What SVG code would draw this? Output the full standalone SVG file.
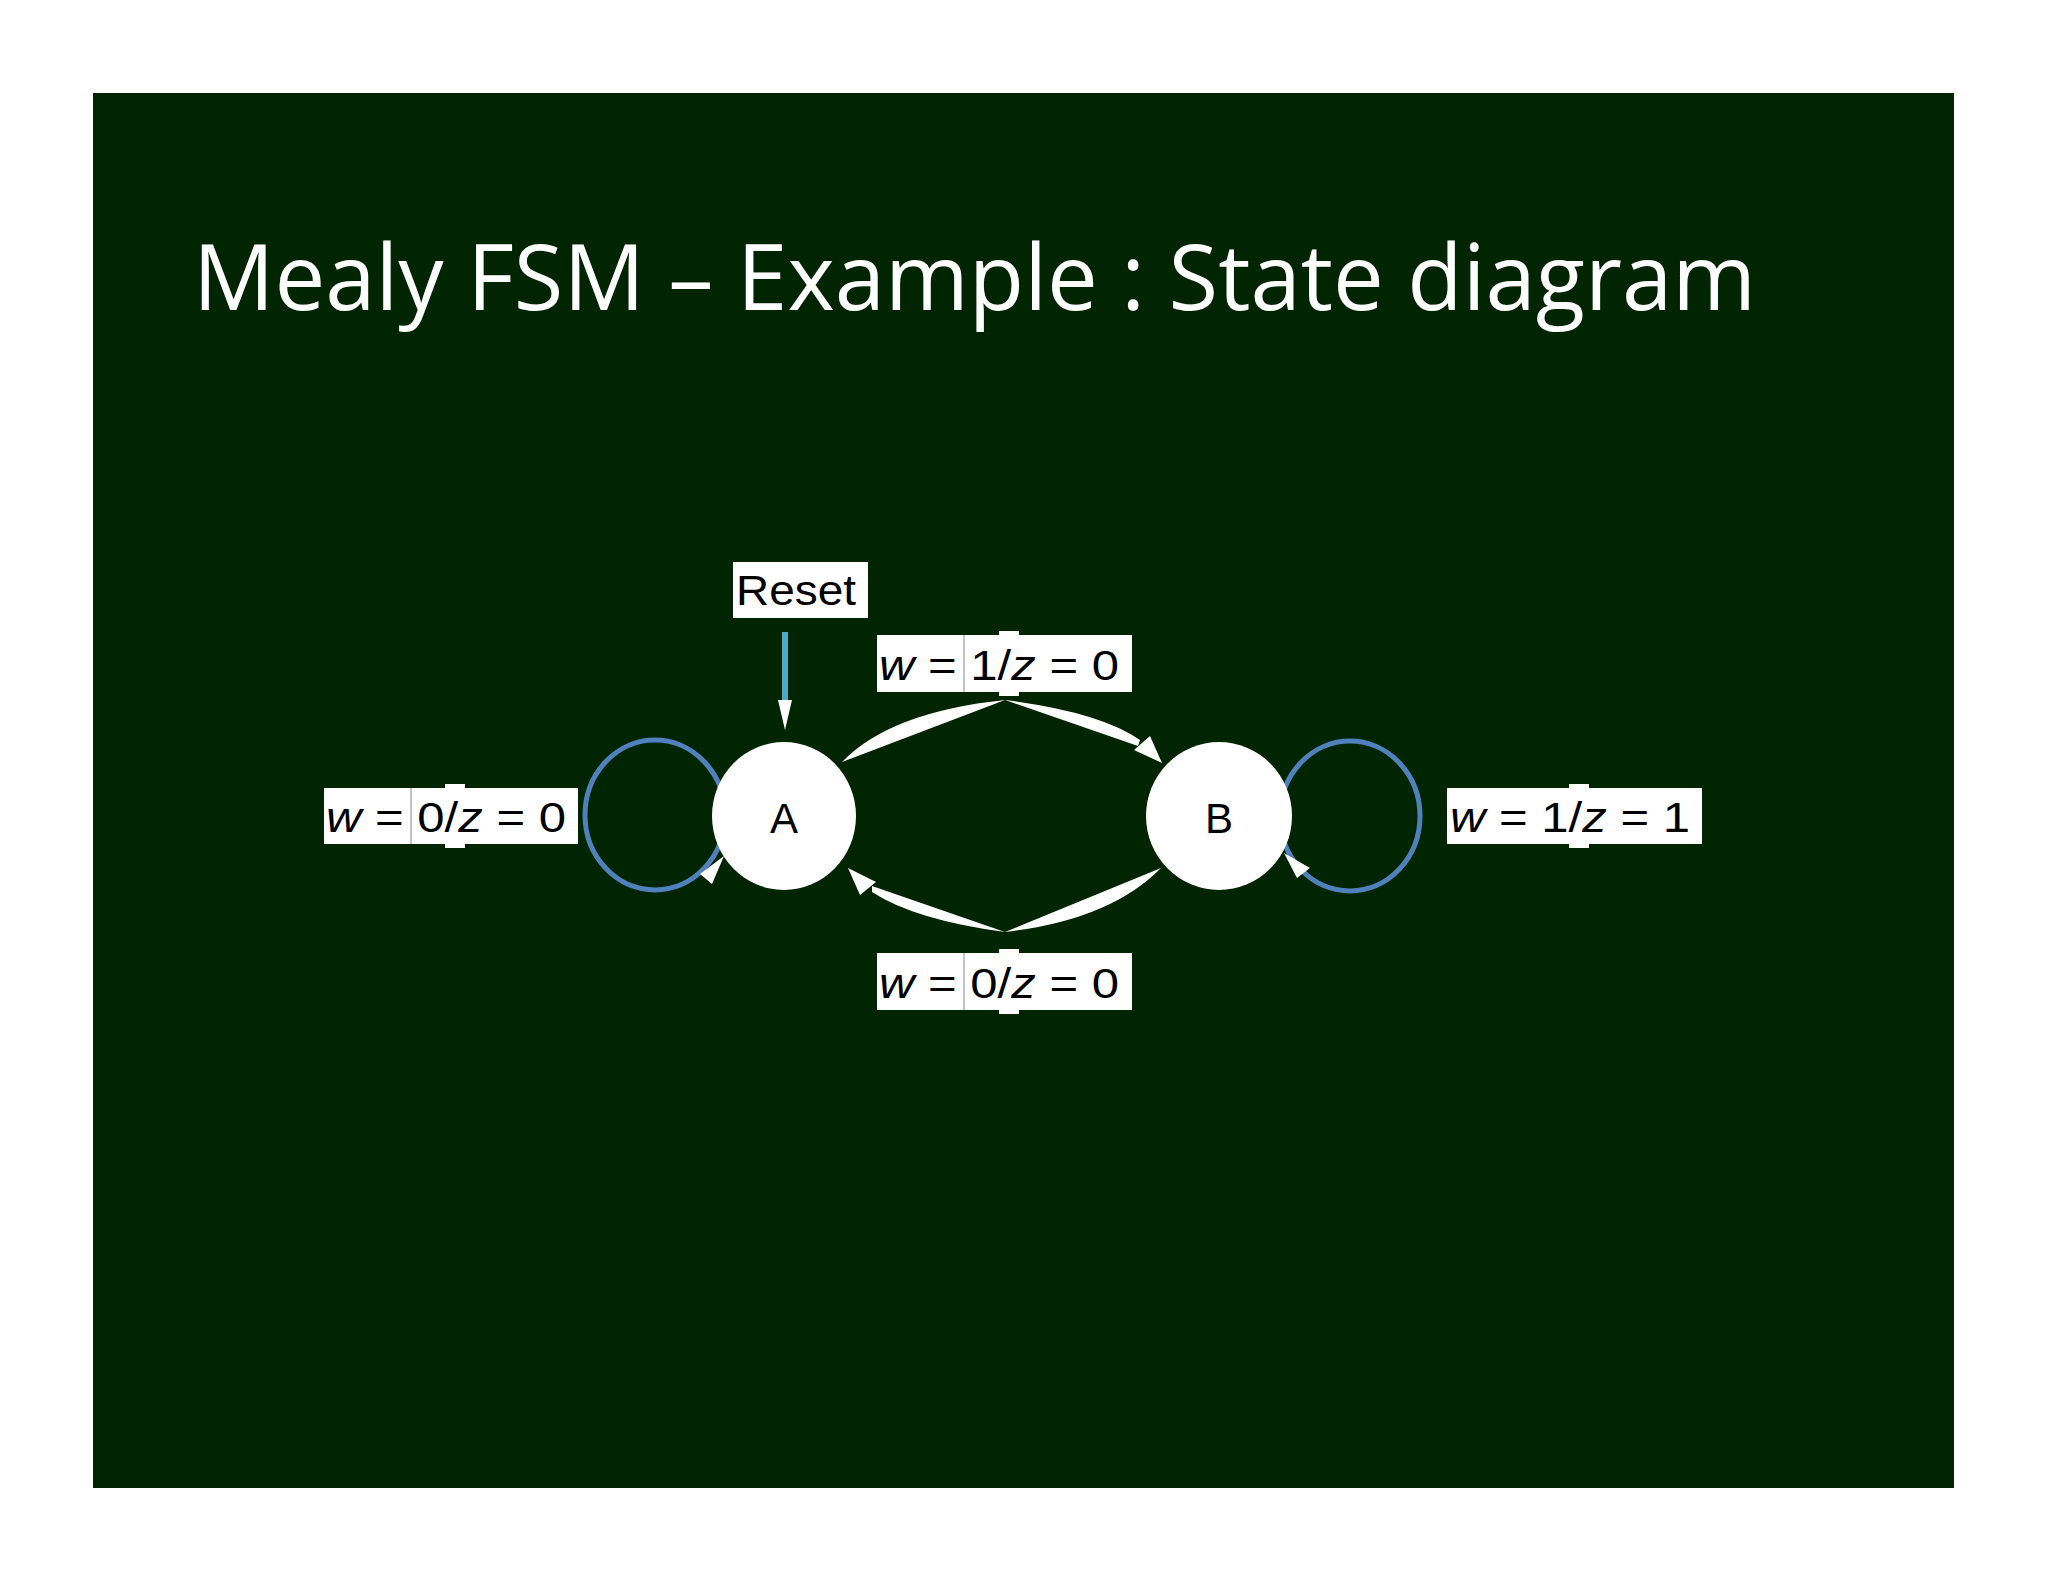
<svg xmlns="http://www.w3.org/2000/svg" width="2048" height="1582" viewBox="0 0 2048 1582">
<style>
.lbl{fill:#fff}
.t{font-family:"Liberation Sans",Arial,sans-serif;font-size:42px;fill:#000}
.i{font-style:italic}
.loop{fill:none;stroke:#4f81bd;stroke-width:5}
.w{fill:#fff}
</style>
<rect width="2048" height="1582" fill="#fff"/>
<rect x="93" y="93" width="1861" height="1395" fill="#012401"/>
<text x="193" y="310" font-family="'Open Sans','Liberation Sans',sans-serif" font-size="92" fill="#fff" textLength="1563" lengthAdjust="spacingAndGlyphs">Mealy FSM – Example : State diagram</text>
<g id="connectors">
<line x1="785" y1="632" x2="785" y2="705" stroke="#4aa8c8" stroke-width="6"/>
<polygon class="w" points="778,700 792,700 785,730"/>
<ellipse class="loop" cx="655" cy="815" rx="70" ry="75"/>
<polygon class="w" points="724,856 700,874 712,884"/>
<ellipse class="loop" cx="1350" cy="816" rx="70" ry="75"/>
<polygon class="w" points="1284,853 1297,878 1310,868"/>
<path class="w" d="M842,762 Q890,712 1005,700 Z"/>
<path class="w" d="M1005,700 Q1100,712 1140,740 L1138,746 Z"/>
<polygon class="w" points="1162,763 1134,750 1150,736"/>
<path class="w" d="M1161,868 Q1110,920 1005,932 Z"/>
<path class="w" d="M1005,932 Q915,920 872,892 L872,886 Z"/>
<polygon class="w" points="848,868 860,895 876,882"/>
</g>
<g id="reset"><rect class="lbl" x="733" y="562" width="135" height="56"/><text class="t" x="736" y="605" textLength="120" lengthAdjust="spacingAndGlyphs">Reset</text></g>
<g id="A"><ellipse class="w" cx="784" cy="816" rx="72" ry="74"/><text class="t" x="784" y="833" text-anchor="middle" font-size="44">A</text></g>
<g id="B"><ellipse class="w" cx="1219" cy="816" rx="73" ry="74"/><text class="t" x="1219" y="833" text-anchor="middle" font-size="44">B</text></g>
<g id="lblA"><rect class="lbl" x="324" y="788" width="254" height="56"/><line x1="411" y1="788" x2="411" y2="844" stroke="#888" stroke-width="1"/><rect class="lbl" x="445" y="784" width="20" height="64"/><text class="t" x="326" y="832" textLength="240" lengthAdjust="spacingAndGlyphs"><tspan class="i">w</tspan> = 0/<tspan class="i">z</tspan> = 0</text></g>
<g id="lblTop"><rect class="lbl" x="877" y="635" width="255" height="57"/><line x1="964" y1="635" x2="964" y2="692" stroke="#888" stroke-width="1"/><rect class="lbl" x="999" y="631" width="20" height="65"/><text class="t" x="879" y="680" textLength="240" lengthAdjust="spacingAndGlyphs"><tspan class="i">w</tspan> = 1/<tspan class="i">z</tspan> = 0</text></g>
<g id="lblBot"><rect class="lbl" x="877" y="953" width="255" height="57"/><line x1="964" y1="953" x2="964" y2="1010" stroke="#888" stroke-width="1"/><rect class="lbl" x="999" y="949" width="20" height="65"/><text class="t" x="879" y="998" textLength="240" lengthAdjust="spacingAndGlyphs"><tspan class="i">w</tspan> = 0/<tspan class="i">z</tspan> = 0</text></g>
<g id="lblB"><rect class="lbl" x="1447" y="788" width="255" height="56"/><rect class="lbl" x="1569" y="784" width="20" height="64"/><text class="t" x="1450" y="832" textLength="240" lengthAdjust="spacingAndGlyphs"><tspan class="i">w</tspan> = 1/<tspan class="i">z</tspan> = 1</text></g>
</svg>
